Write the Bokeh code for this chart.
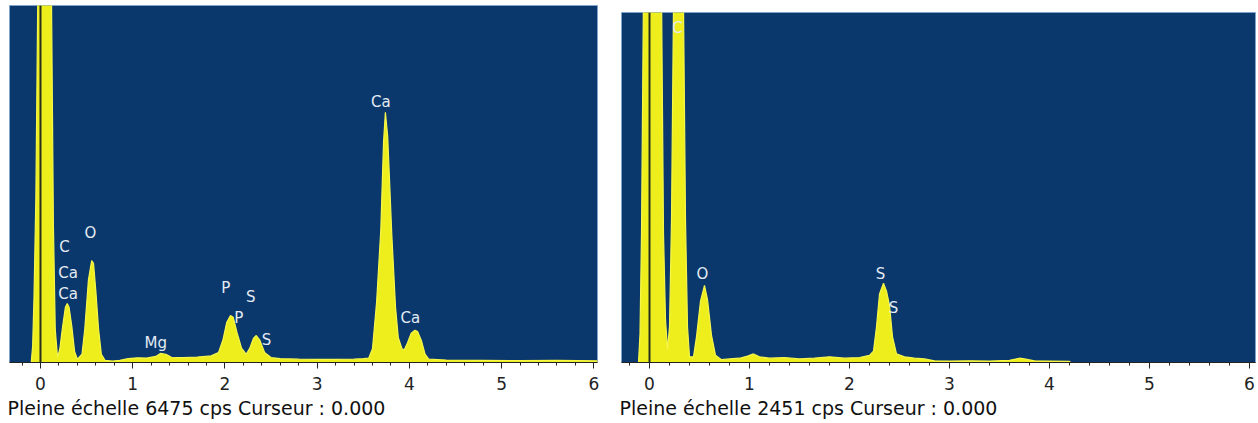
from bokeh.plotting import figure
from bokeh.layouts import row, column
from bokeh.models import Range1d, FixedTicker, Span, Title, ColumnDataSource
from bokeh.core.properties import value
from bokeh.embed import file_html
from bokeh.resources import INLINE

# ---- Spectrum 1 (full scale 6475 cps) ----
energy_1 = [-0.34, -0.10, -0.085, -0.07, -0.05, -0.03, 0.0, 0.09, 0.12, 0.14, 0.16, 0.185,
            0.21, 0.24, 0.27, 0.29, 0.31, 0.34, 0.37, 0.40,
            0.45, 0.48, 0.52, 0.555, 0.575, 0.60, 0.63, 0.66, 0.70,
            0.78, 0.86, 0.95, 1.05, 1.15, 1.25,
            1.30, 1.36, 1.42, 1.55, 1.70, 1.85,
            1.93, 1.98, 2.02, 2.06, 2.09, 2.13, 2.18, 2.23,
            2.27, 2.31, 2.34, 2.38, 2.43, 2.50, 2.60, 2.80, 3.00, 3.20, 3.40, 3.50,
            3.56, 3.60, 3.645, 3.69, 3.72, 3.74, 3.765, 3.81, 3.85, 3.88, 3.92, 3.945,
            3.98, 4.02, 4.06, 4.09, 4.13, 4.17, 4.21,
            4.40, 4.80, 5.20, 5.60, 6.04]
counts_1 = [0, 0, 300, 1200, 3000, 6500, 20000, 20000, 6500, 2500, 600, 90,
            250, 650, 1000, 1070, 1000, 650, 200, 60,
            150, 600, 1500, 1850, 1800, 1300, 600, 150, 40,
            25, 40, 70, 85, 80, 110,
            165, 150, 95, 90, 100, 120,
            180, 420, 730, 850, 820, 550, 260, 150,
            260, 440, 490, 400, 180, 90, 70, 60, 55, 55, 60, 70,
            80, 250, 1100, 2400, 4000, 4540, 4100, 2300, 1000, 450, 250, 230,
            360, 530, 585, 560, 400, 150, 60,
            45, 40, 35, 40, 30]
full_scale_1 = 6475
peak_text_1 = ["C", "O", "Ca", "Ca", "Mg", "P", "S", "P", "S", "Ca", "Ca"]
peak_x_1 = [0.26, 0.54, 0.30, 0.30, 1.25, 2.01, 2.28, 2.15, 2.45, 3.69, 4.01]
peak_y_1 = [2090, 2340, 1630, 1250, 360, 1360, 1180, 800, 400, 4720, 800]

# ---- Spectrum 2 (full scale 2451 cps) ----
energy_2 = [-0.28, -0.11, -0.095, -0.08, -0.06, -0.04, 0.0, 0.09, 0.12, 0.14, 0.16, 0.18,
            0.20, 0.22, 0.24, 0.26, 0.32, 0.34, 0.36, 0.38, 0.40,
            0.44, 0.47, 0.51, 0.55, 0.58, 0.62, 0.66, 0.72,
            0.80, 0.90, 0.98, 1.04, 1.10, 1.20, 1.35, 1.50, 1.65, 1.80, 1.95, 2.10, 2.20,
            2.24, 2.27, 2.30, 2.34, 2.37, 2.40, 2.43, 2.47, 2.55, 2.65, 2.75, 2.85,
            3.00, 3.20, 3.40, 3.60, 3.70, 3.75, 3.85, 4.00, 4.20, 4.21]
counts_2 = [0, 0, 200, 900, 2600, 6000, 9000, 9000, 2600, 900, 300, 90,
            250, 1000, 2500, 6000, 6000, 2500, 1000, 250, 40,
            40, 180, 430, 540, 440, 190, 50, 20,
            25, 30, 45, 60, 40, 30, 35, 25, 30, 40, 30, 35, 50,
            80, 250, 480, 555, 500, 400, 180, 60, 40, 30, 25, 12,
            10, 12, 10, 15, 30, 25, 12, 10, 8, 0]
full_scale_2 = 2451
peak_text_2 = ["C", "O", "S", "S"]
peak_x_2 = [0.28, 0.53, 2.31, 2.44]
peak_y_2 = [2340, 620, 620, 380]

tick_values = [0, 1, 2, 3, 4, 5, 6]
minor_values = [round(-0.2 + 0.2 * i, 1) for i in range(32)]

FRAME_BLUE = "#0a386c"
SPEC_FILL = "#eeee1c"
SPEC_EDGE = "#f6f64a"
FONT = "DejaVu Sans"


def spectrum_panel(energy, counts, full_scale, ptext, px, py, caption,
                   width, left, right, top, x_range):
    p = figure(width=width, height=423, output_backend="svg", toolbar_location=None,
               x_range=Range1d(*x_range), y_range=Range1d(0, full_scale),
               y_axis_location=None, min_border_left=left, min_border_right=right,
               min_border_top=top, min_border_bottom=61)
    p.background_fill_color = FRAME_BLUE
    p.border_fill_color = "white"
    p.outline_line_color = "#7fa4cc"
    p.outline_line_width = 1
    p.grid.visible = False

    src = ColumnDataSource(dict(e=energy, c=counts))
    p.varea(x="e", y1=0, y2="c", source=src, fill_color=SPEC_FILL)
    p.line(x="e", y="c", source=src, line_color=SPEC_EDGE, line_width=1.2)

    # cursor at 0.000 keV
    p.add_layout(Span(location=0, dimension="height", line_color="#27301e", line_width=2))

    p.text(x=px, y=py, text=ptext, text_color="#e4ebf3", text_font=value(FONT),
           text_font_size="15px", text_align="center", text_baseline="middle")

    ax = p.xaxis[0]
    ax.ticker = FixedTicker(ticks=tick_values, minor_ticks=minor_values)
    ax.axis_line_color = "#222222"
    ax.major_tick_line_color = "#222222"
    ax.minor_tick_line_color = "#222222"
    ax.major_tick_in = 0
    ax.major_tick_out = 6
    ax.minor_tick_in = 0
    ax.minor_tick_out = 3
    ax.major_label_standoff = 8
    ax.major_label_text_font = FONT
    ax.major_label_text_font_size = "17px"
    ax.major_label_text_color = "#222222"

    p.add_layout(Title(text=caption, align="left", text_font=FONT, text_font_size="19px",
                       text_font_style="normal", text_color="#111111",
                       standoff=5, offset=-2), "below")
    return p


p1 = spectrum_panel(energy_1, counts_1, full_scale_1, peak_text_1, peak_x_1, peak_y_1,
                    "Pleine échelle 6475 cps  Curseur : 0.000",
                    608, 9, 11, 5, (-0.336, 6.04))
p2 = spectrum_panel(energy_2, counts_2, full_scale_2, peak_text_2, peak_x_2, peak_y_2,
                    "Pleine échelle 2451 cps  Curseur : 0.000",
                    650, 13, 3, 12, (-0.28, 6.06))

layout = row(column(p1), column(p2))
open("out.html", "w").write(file_html(layout, INLINE))
